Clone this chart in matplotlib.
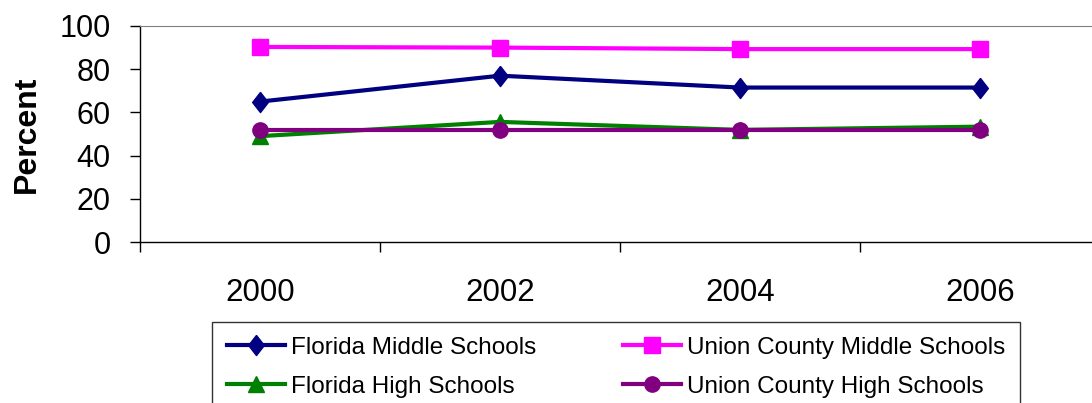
import matplotlib
matplotlib.use("Agg")
import matplotlib.pyplot as plt

plt.rcParams['font.family'] = ['Liberation Sans', 'DejaVu Sans']

years = ['2000', '2002', '2004', '2006']
fl_middle = [65, 77, 71.5, 71.5]
uc_middle = [90.3, 90, 89.3, 89.3]
fl_high = [49, 55.6, 51.9, 53.4]
uc_high = [52, 52, 52, 52]

fig = plt.figure(figsize=(10.92, 4.03), dpi=100)
ax = fig.add_axes([0.1282, 0.3995, 0.8791, 0.536])

# slightly tall diamond like the spreadsheet marker
diamond = [(0, 1), (0.78, 0), (0, -1), (-0.78, 0), (0, 1)]

x = range(len(years))
series = [
    (fl_middle, '#000080', diamond, 'Florida Middle Schools', 14.5),
    (uc_middle, '#FF00FF', 's', 'Union County Middle Schools', 11),
    (fl_high, '#008000', '^', 'Florida High Schools', 12),
    (uc_high, '#800080', 'o', 'Union County High Schools', 11),
]
handles = {}
for vals, col, mk, lab, ms in series:
    h, = ax.plot(x, vals, color=col, marker=mk, markersize=ms, lw=3, label=lab,
                 clip_on=False)
    handles[lab] = h

ax.set_xlim(-0.5, 3.5)
ax.set_ylim(0, 100)
ax.set_yticks(range(0, 101, 20))
ax.set_xticks(list(x))
ax.set_xticklabels(years)
ax.set_xticks([-0.5, 0.5, 1.5, 2.5, 3.5], minor=True)
ax.tick_params(axis='x', which='major', length=0, pad=26, labelsize=22.5)
ax.tick_params(axis='x', which='minor', length=7, width=1, direction='out')
ax.tick_params(axis='y', length=7, width=1, direction='out', labelsize=22, pad=14)

for s in ['left', 'bottom']:
    ax.spines[s].set_color('black')
    ax.spines[s].set_linewidth(1)
ax.spines['top'].set_color('#808080')
ax.spines['right'].set_visible(False)

ax.set_ylabel('Percent', fontsize=23, fontweight='bold', labelpad=13)

# column-major fill: col 1 = Florida, col 2 = Union County
order = ['Florida Middle Schools', 'Florida High Schools',
         'Union County Middle Schools', 'Union County High Schools']
leg = fig.legend(handles=[handles[k] for k in order], ncol=2, loc='upper left',
                 bbox_to_anchor=(212 / 1092, 1 - 322 / 403), fontsize=17.5,
                 frameon=True, fancybox=False, edgecolor='black',
                 handlelength=2.4, columnspacing=3.55, labelspacing=0.7,
                 handletextpad=0.25, borderpad=0.6, borderaxespad=0)
leg.get_frame().set_linewidth(1)

fig.savefig('out.png', dpi=100)
